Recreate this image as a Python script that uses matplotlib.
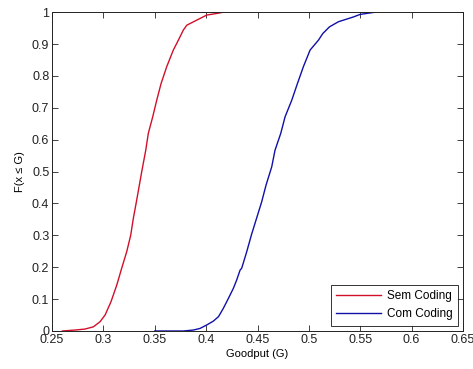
import matplotlib
matplotlib.use("Agg")
import matplotlib.pyplot as plt

plt.rcParams['font.family'] = ['Liberation Sans', 'DejaVu Sans']

# Sem Coding CDF (goodput, F)
sem_x = [0.260, 0.2724, 0.282, 0.2902, 0.2967, 0.3016, 0.3074, 0.3130, 0.3178,
         0.3227, 0.3266, 0.3291, 0.3318, 0.3350, 0.3373, 0.3412, 0.3437, 0.3480,
         0.3519, 0.3561, 0.3616, 0.3680, 0.3729, 0.3778, 0.3811, 0.3908, 0.4006,
         0.4103, 0.4167, 0.420]
sem_f = [0.0, 0.003, 0.006, 0.013, 0.029, 0.050, 0.092, 0.144, 0.197,
         0.249, 0.301, 0.353, 0.400, 0.458, 0.500, 0.567, 0.620, 0.672,
         0.724, 0.776, 0.829, 0.881, 0.912, 0.944, 0.959, 0.975, 0.991,
         0.996, 1.0, 1.0]

# Com Coding CDF
com_x = [0.350, 0.3778, 0.3875, 0.394, 0.4006, 0.407, 0.412, 0.4167, 0.4216,
         0.4265, 0.4297, 0.433, 0.4346, 0.4395, 0.444, 0.449, 0.454, 0.4583,
         0.4638, 0.467, 0.4726, 0.4768, 0.4833, 0.4888, 0.4946, 0.5011, 0.5092,
         0.5135, 0.520, 0.5287, 0.5433, 0.5498, 0.5644]
com_f = [0.0, 0.0, 0.003, 0.008, 0.019, 0.031, 0.045, 0.071, 0.102,
         0.134, 0.160, 0.191, 0.197, 0.249, 0.301, 0.353, 0.405, 0.458,
         0.515, 0.567, 0.620, 0.672, 0.724, 0.776, 0.829, 0.881, 0.912,
         0.933, 0.954, 0.970, 0.985, 0.993, 1.0]

labels = ["Sem Coding", "Com Coding"]
xticks = [0.25, 0.3, 0.35, 0.4, 0.45, 0.5, 0.55, 0.6, 0.65]
yticks = [0, 0.1, 0.2, 0.3, 0.4, 0.5, 0.6, 0.7, 0.8, 0.9, 1]

fig = plt.figure(figsize=(4.73, 3.69), dpi=100)
ax = fig.add_axes([0.110, 0.103, 0.869, 0.864])

ax.plot(sem_x, sem_f, color='#d0102a', lw=1.0, label=labels[0])
ax.plot(com_x, com_f, color='#1010a8', lw=1.0, label=labels[1])

ax.set_xlim(0.25, 0.65)
ax.set_ylim(0, 1)
ax.set_xticks(xticks)
ax.set_xticklabels([f"{t:g}" for t in xticks])
ax.set_yticks(yticks)
ax.set_yticklabels([f"{t:g}" for t in yticks])
ax.tick_params(direction='in', top=True, right=True, length=4, width=0.6,
               labelsize=9, colors='#222222', pad=2)
for s in ax.spines.values():
    s.set_linewidth(0.7)
    s.set_color('#222222')

ax.set_xlabel("Goodput (G)", fontsize=8, labelpad=2)
ax.set_ylabel("F(x ≤ G)", fontsize=8, labelpad=5)

leg = ax.legend(loc='lower right', fontsize=8.5, frameon=True, fancybox=False,
                edgecolor='black', borderaxespad=0.45, handlelength=3.8,
                labelspacing=0.55, borderpad=0.45, handletextpad=0.5)
leg.get_frame().set_linewidth(0.7)

fig.savefig("out.png", dpi=100)
